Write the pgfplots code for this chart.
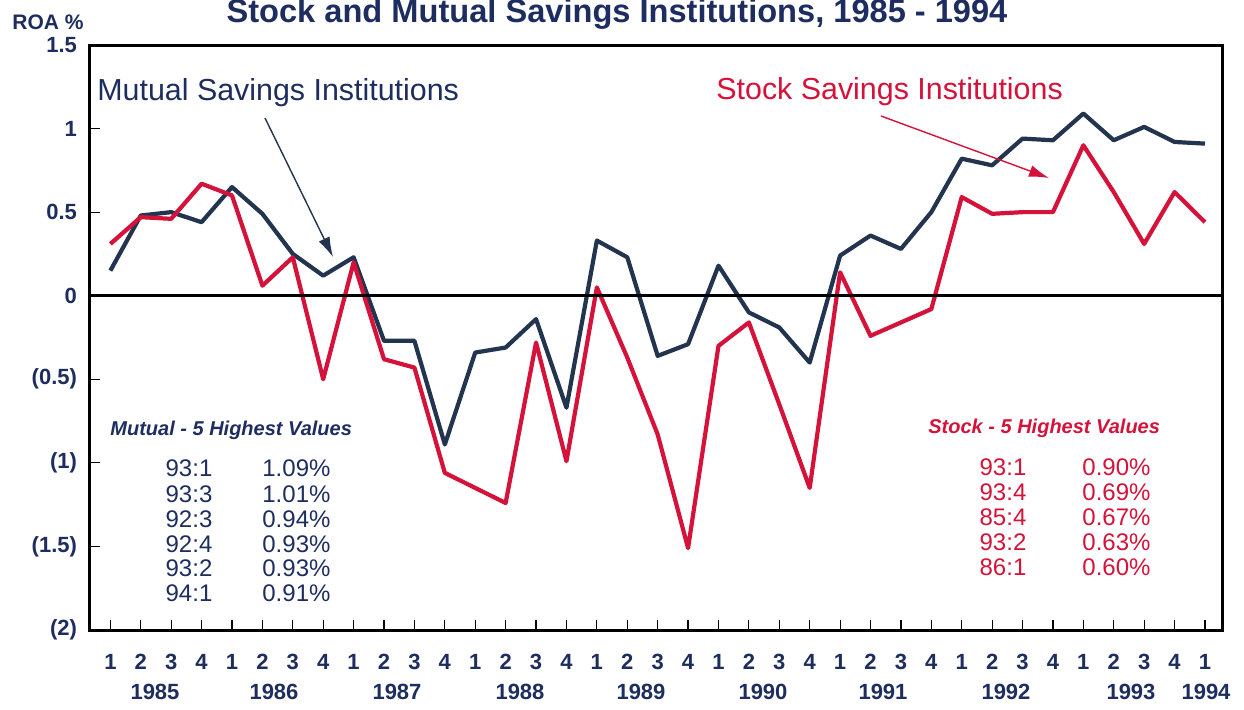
\documentclass[border=0pt]{standalone}
\usepackage{pgfplots}
\pgfplotsset{compat=1.18}
\usepackage{fontspec}
\setmainfont{Liberation Sans}
\usetikzlibrary{arrows.meta}
\definecolor{navyline}{RGB}{35,52,78}
\definecolor{navytext}{RGB}{30,45,95}
\definecolor{stockred}{RGB}{212,18,58}
\begin{document}
\begin{tikzpicture}
\begin{axis}[
  scale only axis, width=566pt, height=292.5pt,
  at={(0,0)}, anchor=south west,
  xmin=-0.67, xmax=36.56, ymin=-2, ymax=1.5,
  axis line style={black, line width=1.5pt},
  tick align=inside, xtick pos=bottom, ytick pos=left,
  major tick length=5pt,
  tick style={black, line width=0.6pt},
  xtick={0,...,36},
  xticklabels={1,2,3,4,1,2,3,4,1,2,3,4,1,2,3,4,1,2,3,4,1,2,3,4,1,2,3,4,1,2,3,4,1,2,3,4,1},
  ytick={-2,-1.5,-1,-0.5,0,0.5,1,1.5},
  yticklabels={(2),(1.5),(1),(0.5),0,0.5,1,1.5},
  xticklabel style={font=\bfseries\fontsize{11}{13}\selectfont, text=navytext, anchor=center, yshift=-16pt},
  yticklabel style={font=\bfseries\fontsize{11}{13}\selectfont, text=navytext, anchor=east, xshift=-3pt},
  /pgf/number format/assume math mode=true,
  clip=false,
]
\addplot[navyline, line width=2.1pt, line join=round] table {
0 0.15
1 0.48
2 0.50
3 0.44
4 0.65
5 0.49
6 0.25
7 0.12
8 0.23
9 -0.27
10 -0.27
11 -0.89
12 -0.34
13 -0.31
14 -0.14
15 -0.67
16 0.33
17 0.23
18 -0.36
19 -0.29
20 0.18
21 -0.10
22 -0.19
23 -0.40
24 0.24
25 0.36
26 0.28
27 0.50
28 0.82
29 0.78
30 0.94
31 0.93
32 1.09
33 0.93
34 1.01
35 0.92
36 0.91
};
\addplot[stockred, line width=2.1pt, line join=round] table {
0 0.31
1 0.47
2 0.46
3 0.67
4 0.60
5 0.06
6 0.23
7 -0.50
8 0.20
9 -0.38
10 -0.43
11 -1.06
12 -1.15
13 -1.24
14 -0.28
15 -0.99
16 0.05
17 -0.37
18 -0.83
19 -1.51
20 -0.30
21 -0.16
22 -0.65
23 -1.15
24 0.14
25 -0.24
26 -0.16
27 -0.08
28 0.59
29 0.49
30 0.50
31 0.50
32 0.90
33 0.62
34 0.31
35 0.62
36 0.44
};
\draw[black, line width=1.5pt] (axis cs:-0.67,0) -- (axis cs:36.56,0);
\end{axis}
\begin{scope}[shift={(-45pt,315pt)}, x=0.5pt, y=-0.5pt]
\useasboundingbox (0,0) rectangle (1244,709);
% title and axis title
\node[font=\bfseries\fontsize{16.3}{18}\selectfont, text=navytext, anchor=base] at (617,23) {Stock and Mutual Savings Institutions, 1985 - 1994};
\node[font=\bfseries\fontsize{10.5}{12}\selectfont, text=navytext, anchor=base west, inner sep=0pt] at (12,30) {ROA \%};
% year labels
\foreach \px/\yr in {155/1985,274/1986,397/1987,520/1988,641/1989,763/1990,883/1991,1006/1992,1131/1993,1206/1994}
  \node[font=\bfseries\fontsize{11}{13}\selectfont, text=navytext] at (\px,692) {\yr};
% series labels and arrows
\node[font=\fontsize{15.2}{17}\selectfont, text=navytext, anchor=west, inner sep=0pt] at (97,93) {Mutual Savings Institutions};
\draw[navyline, line width=0.7pt, -{Latex[length=10pt,width=6pt]}] (265,118) -- (333,257);
\node[font=\fontsize{15.2}{17}\selectfont, text=stockred, anchor=west, inner sep=0pt] at (716,92) {Stock Savings Institutions};
\draw[stockred, line width=0.7pt, -{Latex[length=10pt,width=6pt]}] (881,116) -- (1049,178);
% mutual box
\node[font=\bfseries\itshape\fontsize{10}{12}\selectfont, text=navytext, anchor=west, inner sep=0pt] at (110,430) {Mutual - 5 Highest Values};
\foreach \yy/\a/\b in {468/93:1/1.09\%,494/93:3/1.01\%,519/92:3/0.94\%,544/92:4/0.93\%,568/93:2/0.93\%,593/94:1/0.91\%}{
  \node[font=\fontsize{12}{14}\selectfont, text=navytext] at (189,\yy) {\a};
  \node[font=\fontsize{12}{14}\selectfont, text=navytext, anchor=west, inner sep=0pt] at (262,\yy) {\b};
}
% stock box
\node[font=\bfseries\itshape\fontsize{10}{12}\selectfont, text=stockred, anchor=west, inner sep=0pt] at (928,428) {Stock - 5 Highest Values};
\foreach \yy/\a/\b in {467/93:1/0.90\%,492/93:4/0.69\%,517/85:4/0.67\%,542/93:2/0.63\%,567/86:1/0.60\%}{
  \node[font=\fontsize{12}{14}\selectfont, text=stockred] at (1003,\yy) {\a};
  \node[font=\fontsize{12}{14}\selectfont, text=stockred, anchor=west, inner sep=0pt] at (1082,\yy) {\b};
}
\end{scope}
\end{tikzpicture}
\end{document}
